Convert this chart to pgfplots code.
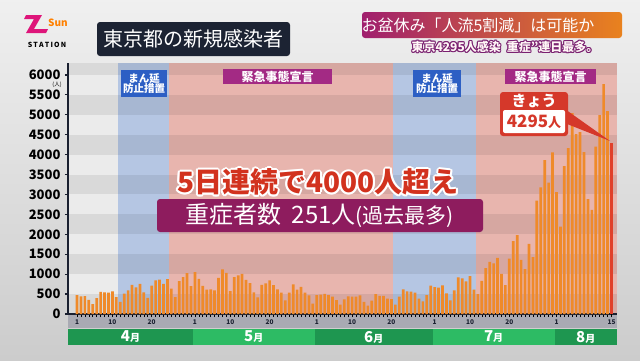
\documentclass[border=0pt]{standalone}
\usepackage{fontspec}
\setmainfont{Noto Sans CJK JP}
\usepackage{pgfplots}
\pgfplotsset{compat=1.18}
\definecolor{axisnavy}{HTML}{1A2030}
\definecolor{grayreg}{HTML}{EBEBEB}
\definecolor{bluereg}{HTML}{B5C6E3}
\definecolor{pinkreg}{HTML}{E8B5AE}
\definecolor{barorange}{HTML}{EF8A2A}
\definecolor{todayred}{HTML}{E0402A}
\definecolor{bandgray}{HTML}{A9AAB3}
\definecolor{greendark}{HTML}{1E9650}
\definecolor{greenlight}{HTML}{2DBB64}
\definecolor{titlenavy}{HTML}{1C2333}
\definecolor{boxblue}{HTML}{2D5FC4}
\definecolor{boxmag}{HTML}{A32A84}
\definecolor{bigred}{HTML}{D2321E}
\definecolor{boxpurple}{HTML}{8E1C5E}
\definecolor{calloutred}{HTML}{D5382A}
\definecolor{bannerL}{HTML}{A01F6E}
\definecolor{bannerR}{HTML}{E9821E}
\definecolor{subpurple}{HTML}{7A2070}
\newcommand{\fs}[1]{\fontsize{#1}{#1}\selectfont}
\begin{document}
\begin{tikzpicture}[x=1pt,y=1pt]
\useasboundingbox (0,0) rectangle (640,360);
\shade[top color=white!88!gray, bottom color=gray!40!white] (0,0) rectangle (640,360);
% plot regions
\fill[grayreg] (68,46) rectangle (118.3,297);
\fill[bluereg] (118.3,46) rectangle (169.4,297);
\fill[pinkreg] (169.4,46) rectangle (393.4,297);
\fill[bluereg] (393.4,46) rectangle (475.9,297);
\fill[pinkreg] (475.9,46) rectangle (617,297);
\foreach \k in {0,2,4,6,8,10} {
  \fill[black, opacity=0.075] (68,46+19.92*\k) rectangle (617,46+19.92*\k+19.92);
}
\fill[black, opacity=0.075] (68,285.0) rectangle (617,297);
% bottom bands
\fill[bandgray] (68,32) rectangle (617,46);
\fill[greendark] (68,15) rectangle (192.9,31);
\fill[greenlight] (192.9,15) rectangle (314.8,31);
\fill[greendark] (314.8,15) rectangle (432.7,31);
\fill[greenlight] (432.7,15) rectangle (554.5,31);
\fill[greendark] (554.5,15) rectangle (617,31);
\node[white, font=\bfseries] at (130.5,23) {\fs{15}4\fs{10}月};
\node[white, font=\bfseries] at (253.8,23) {\fs{15}5\fs{10}月};
\node[white, font=\bfseries] at (373.7,23) {\fs{15}6\fs{10}月};
\node[white, font=\bfseries] at (493.6,23) {\fs{15}7\fs{10}月};
\node[white, font=\bfseries] at (585.7,23) {\fs{15}8\fs{10}月};
\begin{axis}[at={(68pt,46pt)}, anchor=south west, scale only axis,
 width=549pt, height=251pt,
 xmin=-2.3, xmax=137.4, ymin=0, ymax=6300,
 axis x line=bottom, axis y line=left,
 axis line style={-, line width=2.2pt, color=axisnavy},
 ytick={0,500,...,6000},
 yticklabel style={font=\fs{13}\bfseries, text=black, xshift=-1pt},
 /pgf/number format/assume math mode=true,
 /pgf/number format/1000 sep={},
 ytick style={line width=1.2pt, color=axisnavy},
 tick align=outside,
 major tick length=3pt,
 xtick={0,...,136}, xticklabels={},
 xtick style={line width=0.6pt, color=black},
 extra x ticks={0,9,19,30,39,49,61,70,80,91,100,110,122,136},
 extra x tick labels={1,10,20,1,10,20,1,10,20,1,10,20,1,15},
 extra x tick style={tick label style={font=\fs{6.5}\bfseries, text=axisnavy, yshift=1pt}},
 clip=false,
]
\addplot[ybar, bar width=2.7pt, fill=barorange, draw=none] coordinates {
(0,475)(1,440)(2,446)(3,355)(4,249)(5,399)(6,555)(7,545)(8,537)(9,570)(10,421)(11,306)(12,510)(13,591)(14,729)(15,667)(16,759)(17,543)(18,405)(19,711)(20,843)(21,861)(22,759)(23,876)(24,635)(25,425)(26,828)(27,925)(28,1027)(29,698)
(30,1050)(31,879)(32,708)(33,609)(34,621)(35,591)(36,907)(37,1121)(38,1032)(39,573)(40,925)(41,969)(42,1010)(43,854)(44,772)(45,542)(46,419)(47,732)(48,766)(49,843)(50,723)(51,620)(52,535)(53,340)(54,537)(55,743)(56,614)(57,684)(58,539)(59,470)(60,260)
(61,471)(62,487)(63,508)(64,472)(65,436)(66,351)(67,235)(68,369)(69,440)(70,439)(71,435)(72,467)(73,304)(74,209)(75,337)(76,501)(77,452)(78,453)(79,388)(80,376)(81,236)(82,435)(83,619)(84,570)(85,562)(86,534)(87,386)(88,317)(89,476)(90,714)
(91,673)(92,660)(93,716)(94,518)(95,342)(96,593)(97,920)(98,896)(99,822)(100,950)(101,614)(102,502)(103,830)(104,1149)(105,1308)(106,1271)(107,1410)(108,1008)(109,727)(110,1387)(111,1832)(112,1979)(113,1359)(114,1128)(115,1763)(116,1429)(117,2848)(118,3177)(119,3865)(120,3300)(121,4058)
(122,3058)(123,2195)(124,3709)(125,4166)(126,5042)(127,4515)(128,4566)(129,4066)(130,2884)(131,2612)(132,4200)(133,4989)(134,5773)(135,5094)
};
\addplot[ybar, bar width=2.7pt, fill=todayred, draw=none] coordinates {(136,4295)};
\end{axis}
\node[font=\fs{5.5}, inner sep=0pt] at (57,275) {(人)};
% region labels
\fill[boxblue] (121,290) rectangle (167,263);
\node[white, align=center, font=\fs{10.5}\bfseries, inner sep=0pt] at (144,276.5) {まん延\\[-0.5pt]防止措置};
\fill[boxblue] (413,290) rectangle (461,263);
\node[white, align=center, font=\fs{10.5}\bfseries, inner sep=0pt] at (437,276.5) {まん延\\[-0.5pt]防止措置};
\fill[boxmag] (223,291) rectangle (332,276);
\node[white, font=\fs{12}\bfseries, inner sep=0pt] at (277.5,283.5) {緊急事態宣言};
\fill[boxmag] (505,291) rectangle (596,276);
\node[white, font=\fs{12}\bfseries, inner sep=0pt] at (550.5,283.5) {緊急事態宣言};
% callout
\fill[calloutred] (562,253) -- (562,238) -- (610,219) -- cycle;
\fill[calloutred, rounded corners=3pt] (500,268) rectangle (568,224);
\fill[white, rounded corners=2pt] (503,250) rectangle (565,227);
\node[white, font=\fs{15}\bfseries, inner sep=0pt] at (534,259.5) {きょう};
\node[calloutred, font=\bfseries, inner sep=0pt] at (534,238.5) {\fs{17}4295\fs{13}人};
% big red text with white outline
\foreach \a in {0,30,...,330} {
  \path (318,178) ++(\a:1.8) node[white, font=\fs{28}\bfseries, inner sep=0pt] {5日連続で4000人超え};
}
\node[bigred, font=\fs{28}\bfseries, inner sep=0pt] at (318,178) {5日連続で4000人超え};
% purple box
\fill[boxpurple, rounded corners=3pt] (157,161) rectangle (483,128);
\node[white, font=\fs{24}, inner sep=0pt] at (320,144.5) {重症者数\hspace{10pt}251人\fs{21}(過去最多)};
% title
\fill[titlenavy, rounded corners=3pt] (97,338) rectangle (290,304);
\node[white, font=\fs{20}, inner sep=0pt] at (193.5,321) {東京都の新規感染者};
% top banner
\shade[left color=bannerL, right color=bannerR, rounded corners=3pt] (362,348) rectangle (622,322);
\node[white, font=\fs{16}, inner sep=0pt] at (478,335) {お盆休み「人流5割減」は可能か};
\foreach \a in {0,45,...,315} {
  \path (505,313) ++(\a:1.1) node[subpurple, font=\fs{12}\bfseries, inner sep=0pt] {東京4295人感染\hspace{6pt}重症”連日最多。};
}
\node[white!85!pink, font=\fs{12}\bfseries, inner sep=0pt] at (505,313) {東京4295人感染\hspace{6pt}重症”連日最多。};
% logo
\fill[magenta!70!purple] (26,345) -- (42,345) -- (34,331) -- (48,331) -- (46,327) -- (26,327) -- (34,341) -- (24,341) -- cycle;
\node[orange, font=\fs{10}\bfseries, inner sep=0pt] at (58,337) {Sun};
\node[black, font=\fs{7}\bfseries, inner sep=0pt] at (47,315) {S\,T\,A\,T\,I\,O\,N};
\end{tikzpicture}
\end{document}
